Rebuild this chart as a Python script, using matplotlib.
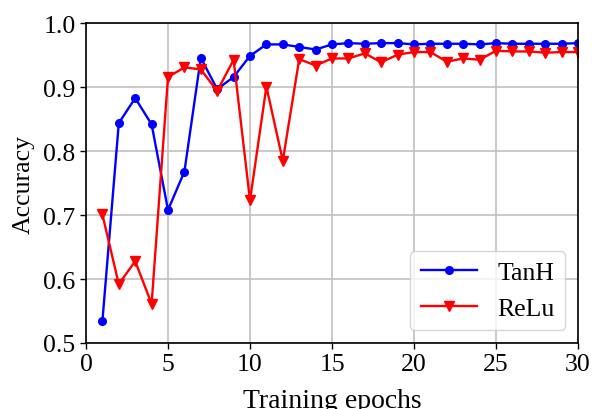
import matplotlib
matplotlib.use("Agg")
import matplotlib.pyplot as plt

epochs = list(range(1, 31))
tanh = [0.534, 0.844, 0.883, 0.842, 0.708, 0.768, 0.946, 0.897, 0.916, 0.949,
        0.967, 0.967, 0.963, 0.959, 0.967, 0.969, 0.968, 0.969, 0.969, 0.967,
        0.968, 0.968, 0.968, 0.967, 0.969, 0.968, 0.968, 0.968, 0.968, 0.969]
relu = [0.701, 0.592, 0.628, 0.561, 0.916, 0.931, 0.928, 0.894, 0.943, 0.723,
        0.901, 0.785, 0.944, 0.934, 0.945, 0.945, 0.953, 0.939, 0.951, 0.955,
        0.955, 0.940, 0.945, 0.943, 0.957, 0.956, 0.956, 0.954, 0.955, 0.955]
xticks = [0, 5, 10, 15, 20, 25, 30]
yticks = [0.5, 0.6, 0.7, 0.8, 0.9, 1.0]

plt.rcParams['font.family'] = ['Liberation Serif', 'DejaVu Serif']
plt.rcParams['mathtext.fontset'] = 'stix'

fig = plt.figure(figsize=(5.92, 4.10), dpi=100)
ax = fig.add_axes([86/592, (410-344)/410, (578-86)/592, (344-24.3)/410])

ax.plot(epochs, tanh, color='blue', marker='o', markersize=5.5, lw=1.7, label='TanH')
ax.plot(epochs, relu, color='red', marker='v', markersize=6.5, lw=1.7, label='ReLu')

ax.set_xlim(0, 30)
ax.set_ylim(0.5, 1.0)
ax.set_xticks(xticks)
ax.set_yticks(yticks)
ax.set_yticklabels([f"{v:.1f}" for v in yticks])
ax.tick_params(labelsize=18.5, width=1, length=4, color='black')
ax.grid(True, color='#c0c0c0', lw=1.2)
ax.set_axisbelow(True)
for s in ax.spines.values():
    s.set_color('black')
    s.set_linewidth(1.2)

ax.set_xlabel('Training epochs', fontsize=20, labelpad=9)
ax.set_ylabel('Accuracy', fontsize=18.5, labelpad=6)
ax.legend(loc='lower right', fontsize=18.5, framealpha=0.8, handlelength=2.2)

fig.savefig('out.png', dpi=100)
